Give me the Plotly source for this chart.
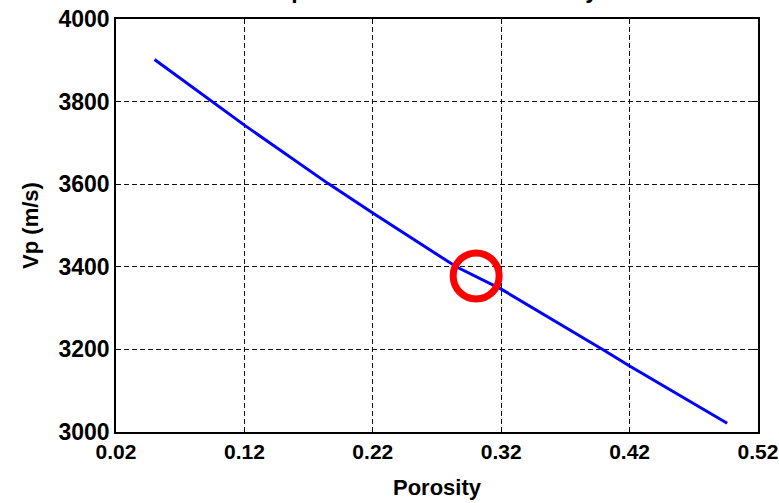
import plotly.graph_objects as go

# Data
porosity = [0.050, 0.090, 0.120, 0.185, 0.220, 0.285, 0.320, 0.400, 0.420, 0.496]
vp = [3902, 3812, 3743, 3602, 3530, 3400, 3346, 3198, 3160, 3021]

highlight_x = [0.3005]
highlight_y = [3378]

x_ticks = [0.02, 0.12, 0.22, 0.32, 0.42, 0.52]
x_ticklabels = ["0.02", "0.12", "0.22", "0.32", "0.42", "0.52"]
y_ticks = [3000, 3200, 3400, 3600, 3800, 4000]
y_ticklabels = ["3000", "3200", "3400", "3600", "3800", "4000"]

title_text = "Vp estimated versus Porosity"

FONT = "Liberation Sans, Arial, Helvetica, sans-serif"
x_tick_font = dict(family=FONT, size=21, color="black", weight="bold")
y_tick_font = dict(family=FONT, size=23, color="black", weight="bold")
label_font = dict(family=FONT, size=22, color="black", weight="bold")

fig = go.Figure()
fig.add_trace(go.Scatter(
    x=porosity, y=vp, mode="lines",
    line=dict(color="#0000FF", width=3),
    showlegend=False, hoverinfo="skip",
))
fig.add_trace(go.Scatter(
    x=highlight_x, y=highlight_y, mode="markers",
    marker=dict(symbol="circle-open", size=46, color="#FF0000",
                line=dict(color="#FF0000", width=7)),
    showlegend=False, hoverinfo="skip",
))

axis_common = dict(
    showline=True, linecolor="black", linewidth=1.5, mirror="ticks",
    ticks="inside", ticklen=5, tickcolor="black", tickwidth=1,
    showgrid=True, gridcolor="#111111", gridwidth=1.3, griddash="5px,3px",
    zeroline=False, automargin=False,
)

fig.update_layout(
    width=779, height=503,
    margin=dict(l=116, r=21, t=19, b=71),
    paper_bgcolor="white", plot_bgcolor="white",
    xaxis=dict(range=[0.02, 0.52], tickvals=x_ticks, ticktext=x_ticklabels,
               tickfont=x_tick_font,
               title=dict(text="Porosity", font=label_font, standoff=18),
               **axis_common),
    yaxis=dict(range=[3000, 4000], tickvals=y_ticks, ticktext=y_ticklabels,
               tickfont=y_tick_font,
               title=dict(text="Vp (m/s)", font=label_font, standoff=14),
               **axis_common),
    annotations=[dict(
        text=title_text, xref="paper", yref="paper", x=0.5, y=1.0,
        xanchor="center", yanchor="bottom", yshift=14, showarrow=False,
        font=dict(family=FONT, size=23, color="black", weight="bold"),
    )],
)

fig.write_html("out.html")
